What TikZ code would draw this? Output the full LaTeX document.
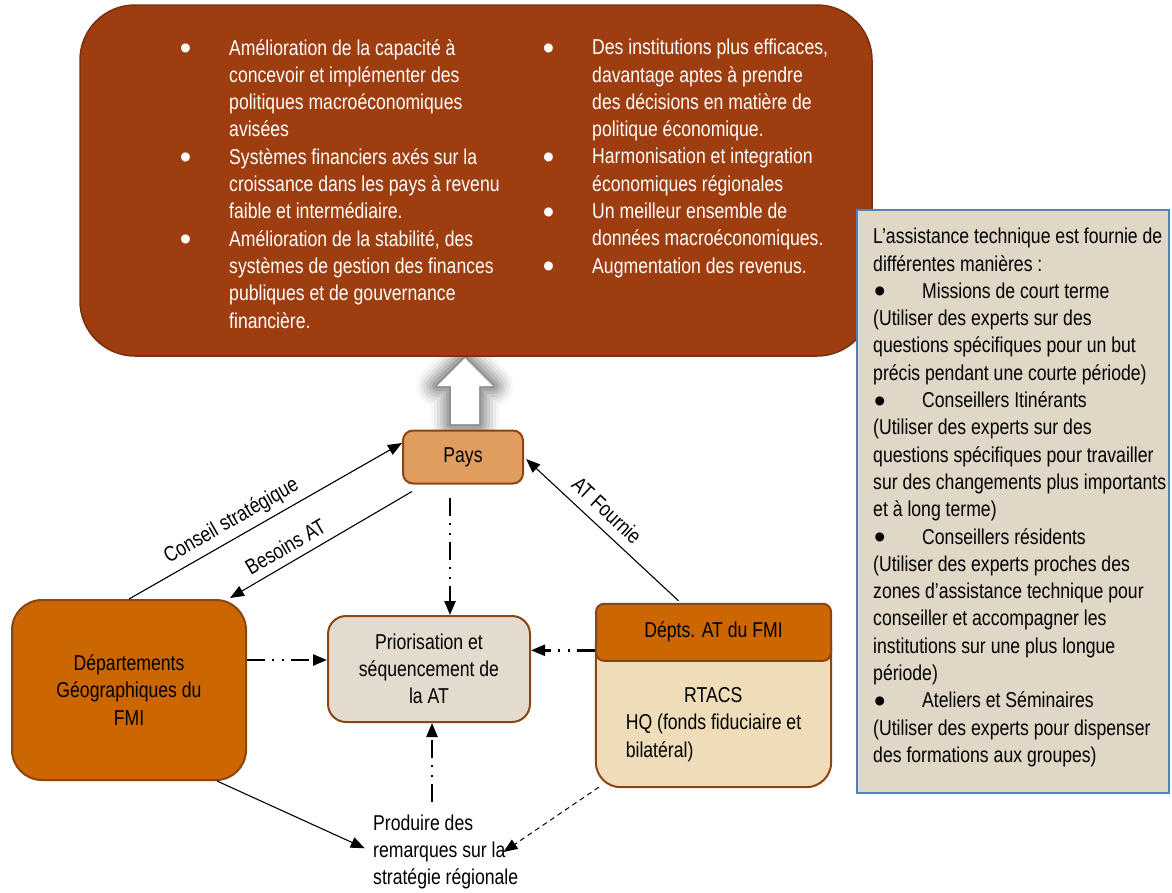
\documentclass[tikz,border=0pt]{standalone}
\usepackage{fontspec}
\usepackage{graphicx}
\setmainfont{Liberation Sans}[FakeStretch=0.82]
\usetikzlibrary{arrows.meta,positioning,calc,backgrounds}

\definecolor{rust}{RGB}{158,61,15}
\definecolor{rustline}{RGB}{120,48,14}
\definecolor{brownline}{RGB}{139,69,19}
\definecolor{fmiorange}{RGB}{204,102,0}
\definecolor{payscol}{RGB}{224,157,94}
\definecolor{sand}{RGB}{226,219,206}
\definecolor{wheatcol}{RGB}{238,221,184}
\definecolor{notecol}{RGB}{224,215,198}
\definecolor{noteline}{RGB}{79,129,189}

\newcommand\bigdot{\raisebox{-4.5pt}{\scalebox{1.85}[1.55]{\textbullet}}}
\newcommand\outbullet{\llap{\bigdot\hspace{38pt}}}
\newcommand\notebullet{\makebox[49pt][l]{\hspace{1pt}\bigdot}}

\begin{document}
\begin{tikzpicture}[x=1pt,y=-1pt,>={Triangle[length=14pt,width=11pt]},
  font=\fontsize{21.5}{27.3}\selectfont,
  box/.style={draw=brownline,line width=2pt,align=center,inner sep=0pt},
  thin/.style={->,line width=1.1pt},
  dashdot/.style={->,line width=2.4pt,dash pattern=on 18pt off 7pt on 2pt off 8pt on 2pt off 7pt},
  listtext/.style={align=left,inner sep=0pt,anchor=north west},
  edgelabel/.style={inner sep=0pt,sloped}]

\useasboundingbox (0,0) rectangle (1172,892);

% glow behind the lift arrow
\foreach \w/\o in {40/0.035,34/0.045,28/0.06,22/0.07,16/0.09,10/0.11,4/0.13}
  \draw[black,line width=\w pt,opacity=\o,line join=round]
    (451,424) -- (451,386) -- (437,386) -- (465,358) -- (493,386) -- (479,386) -- (479,424) -- cycle;

% outcomes
\node[draw=rustline,fill=rust,line width=1.5pt,rounded corners=55pt,
      minimum width=792pt,minimum height=351pt,inner sep=0pt] (outcomes) at (476,180.5) {};
\node[listtext,text=white] (listleft) at (229,39) {%
  \outbullet Amélioration de la capacité à\\
  concevoir et implémenter des\\
  politiques macroéconomiques\\
  avisées\\
  \outbullet Systèmes financiers axés sur la\\
  croissance dans les pays à revenu\\
  faible et intermédiaire.\\
  \outbullet Amélioration de la stabilité, des\\
  systèmes de gestion des finances\\
  publiques et de gouvernance\\
  financière.};
\node[listtext,text=white] (listright) at (592,39) {%
  \outbullet Des institutions plus efficaces,\\
  davantage aptes à prendre\\
  des décisions en matière de\\
  politique économique.\\
  \outbullet Harmonisation et integration\\
  économiques régionales\\
  \outbullet Un meilleur ensemble de\\
  données macroéconomiques.\\
  \outbullet Augmentation des revenus.};

\fill[white] (451,424) -- (451,386) -- (437,386) -- (465,358) -- (493,386) -- (479,386) -- (479,424) -- cycle;

% side note
\node[draw=noteline,fill=notecol,line width=2pt,minimum width=312pt,
      minimum height=583pt,inner sep=0pt] (notebox) at (1013,501.5) {};
\node[listtext] (notetext) at (873,228) {%
  L’assistance technique est fournie de\\
  différentes manières :\\
  \notebullet Missions de court terme\\
  (Utiliser des experts sur des\\
  questions spécifiques pour un but\\
  précis pendant une courte période)\\
  \notebullet Conseillers Itinérants\\
  (Utiliser des experts sur des\\
  questions spécifiques pour travailler\\
  sur des changements plus importants\\
  et à long terme)\\
  \notebullet Conseillers résidents\\
  (Utiliser des experts proches des\\
  zones d'assistance technique pour\\
  conseiller et accompagner les\\
  institutions sur une plus longue\\
  période)\\
  \notebullet Ateliers et Séminaires\\
  (Utiliser des experts pour dispenser\\
  des formations aux groupes)};

% actors
\node[box,fill=payscol,rounded corners=10pt,minimum width=120pt,minimum height=53pt] (pays) at (463,457) {Pays};
\node[box,fill=fmiorange,rounded corners=30pt,minimum width=234pt,minimum height=180pt] (dept) at (129,690)
  {Départements\\Géographiques du\\FMI};
\node[box,fill=sand,rounded corners=18pt,minimum width=202pt,minimum height=106pt] (prior) at (429,669)
  {Priorisation et\\séquencement de\\la AT};
\node[align=left,inner sep=0pt,minimum width=235pt,minimum height=125pt] (rtacs) at (713.5,724.5)
  {\makebox[175pt]{RTACS}\\HQ (fonds fiduciaire et\\bilatéral)};
\begin{scope}[on background layer]
  \draw[draw=brownline,line width=2pt,fill=wheatcol,rounded corners=25pt]
    ([yshift=20pt]rtacs.north west) -- (rtacs.south west) -- (rtacs.south east) -- ([yshift=20pt]rtacs.north east);
\end{scope}
\node[box,fill=fmiorange,rounded corners=8pt,minimum width=235pt,minimum height=57pt,above=0pt of rtacs] (deptsat)
  {Dépts. AT du FMI};
\node[align=left,inner sep=0pt,anchor=west] (produire) at (373,852)
  {Produire des\\remarques sur la\\stratégie régionale};

% flows
\draw[thin] (dept.north) -- ([yshift=14pt]pays.west)
  node[edgelabel,pos=0.406,above=6pt] {Conseil stratégique};
\draw[thin] ([xshift=10pt,yshift=-7pt]pays.south west) -- ([xshift=-17pt,yshift=1pt]dept.north east)
  node[edgelabel,pos=0.65,above=8pt] {Besoins AT};
\draw[thin,shorten >=3pt] ([xshift=-35pt,yshift=2pt]deptsat.north) -- (pays.east)
  node[edgelabel,pos=0.54,above=9pt] {AT Fournie};
\draw[dashdot] ($(pays.south)+(-13,13)$) -- ($(pays.south |- prior.north)+(-13,0)$);
\draw[dashdot] ($(dept.east)+(0,-30)$) -- ($(dept.east -| prior.west)+(0,-30)$);
\draw[dashdot] ($(deptsat.west)+(0,18)$) -- ($(deptsat.west -| prior.east)+(0,18)$);
\draw[dashdot] ($(prior.south |- produire.north)+(3,-12)$) -- ($(prior.south)+(3,0)$);
\draw[thin,shorten >=9pt] ([xshift=-30pt]dept.south east) -- (produire.west);
\draw[thin,line width=1pt,dash pattern=on 5pt off 4pt] ([xshift=3pt]rtacs.south west) -- ([xshift=-15pt]produire.east);

\end{tikzpicture}
\end{document}
